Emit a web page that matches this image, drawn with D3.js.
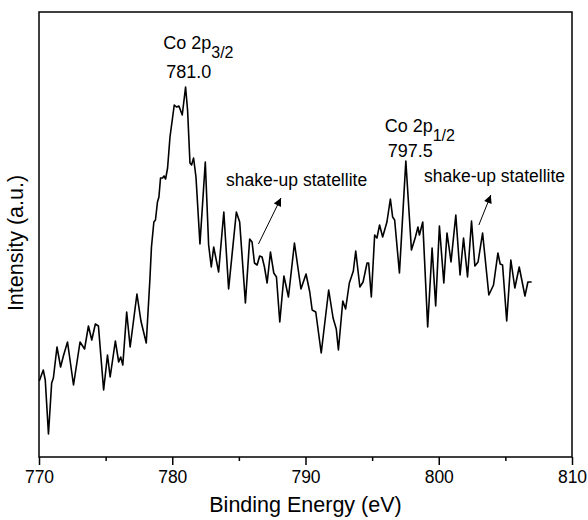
<!DOCTYPE html>
<html>
<head>
<meta charset="utf-8">
<script src="https://cdn.jsdelivr.net/npm/d3@7"></script>
<style>
  body { margin: 0; background: #fff; }
  svg { font-family: "Liberation Sans", Arial, sans-serif; }
</style>
</head>
<body>
<svg id="chart"></svg>
<script>
const energy = [770.02, 770.32, 770.47, 770.71, 770.95, 771.08, 771.35, 771.62, 771.83, 772.14,
  772.59, 773.08, 773.42, 773.71, 773.96, 774.23, 774.46, 774.85, 775.14, 775.34,
  775.73, 775.98, 776.13, 776.29, 776.58, 776.84, 777.35, 777.65, 778.05, 778.32,
  778.44, 778.62, 778.74, 778.89, 779.00, 779.12, 779.27, 779.38, 779.50, 779.65,
  779.83, 780.00, 780.15, 780.32, 780.50, 780.75, 781.00, 781.15, 781.33, 781.45,
  781.60, 781.78, 782.08, 782.48, 782.73, 782.93, 783.11, 783.48, 783.87, 784.23,
  784.81, 785.06, 785.49, 785.81, 785.99, 786.17, 786.37, 786.56, 786.74, 786.92,
  787.12, 787.37, 787.62, 787.82, 788.07, 788.38, 788.72, 789.17, 789.66, 790.04,
  790.32, 790.50, 790.77, 791.18, 791.74, 792.07, 792.31, 792.47, 792.80, 793.01,
  793.29, 793.59, 793.77, 794.08, 794.32, 794.62, 794.74, 794.94, 795.19, 795.36,
  795.56, 795.79, 796.11, 796.37, 796.54, 796.69, 797.05, 797.53, 797.95, 798.25,
  798.44, 798.55, 798.80, 799.17, 799.50, 799.77, 800.05, 800.38, 800.62, 800.83,
  800.92, 801.28, 801.60, 801.86, 802.16, 802.46, 802.71, 802.95, 803.29, 803.76,
  804.11, 804.44, 804.61, 804.79, 805.10, 805.41, 805.71, 806.04, 806.47, 806.69, 806.97]

const intensity = [76, 87, 77, 23, 74, 79, 110, 90, 101, 115,
  72, 115, 108, 131, 117, 133, 131, 67, 102, 80,
  116, 95, 100, 92, 145, 110, 163, 136, 114, 177,
  210, 235, 237, 255, 260, 279, 279, 281, 278, 289,
  320, 337, 352, 350, 351, 342, 370, 347, 294, 292,
  299, 280, 213, 295, 212, 190, 210, 185, 245, 168,
  245, 235, 154, 218, 215, 194, 192, 201, 200, 190,
  174, 205, 184, 180, 135, 181, 160, 214, 168, 183,
  165, 147, 145, 104, 167, 139, 128, 107, 156, 148,
  174, 186, 206, 170, 175, 194, 194, 160, 222, 219,
  232, 220, 235, 258, 240, 237, 184, 296, 207, 220,
  230, 222, 235, 130, 209, 151, 231, 174, 224, 204,
  195, 242, 182, 219, 180, 236, 191, 195, 224, 162,
  172, 204, 193, 192, 136, 197, 169, 190, 161, 175, 175]

const xTicks = [770, 780, 790, 800, 810]
const xMinorTicks = [775, 785, 795, 805]

const peakLabels = [
  { name: "Co 2p", sub: "3/2", value: "781.0", e: 779.32, i: 408, ve: 779.55, vi: 379 },
  { name: "Co 2p", sub: "1/2", value: "797.5", e: 795.94, i: 325, ve: 796.17, vi: 300 }
]
const satellites = [
  { text: "shake-up statellite", e: 784.04, i: 271, from: [786.47, 213], to: [788.16, 259] },
  { text: "shake-up statellite", e: 798.89, i: 275, from: [803.01, 232], to: [803.91, 262] }
]

const W = 588, H = 520
const margin = { top: 12, right: 16, bottom: 63, left: 39 }
const width = W - margin.left - margin.right
const height = H - margin.top - margin.bottom

const svg = d3.select("#chart")
    .attr("width", W)
    .attr("height", H)
  .append("g")
    .attr("transform", "translate(" + margin.left + "," + margin.top + ")")

const xScale = d3.scaleLinear().domain([770, 810]).range([0, width])
const yScale = d3.scaleLinear().domain([0, 445]).range([height, 0])

svg.append("defs").append("marker")
    .attr("id", "head")
    .attr("viewBox", "0 0 10 10")
    .attr("refX", 10).attr("refY", 5)
    .attr("markerWidth", 10).attr("markerHeight", 8)
    .attr("markerUnits", "userSpaceOnUse")
    .attr("orient", "auto")
  .append("path")
    .attr("d", "M0,0 L10,5 L0,10 Z")
    .attr("fill", "#000")

const line = d3.line()
  .x((d, i) => xScale(energy[i]))
  .y(d => yScale(d))

svg.append("path")
  .datum(intensity)
  .attr("fill", "none")
  .attr("stroke", "#000")
  .attr("stroke-width", 1.6)
  .attr("stroke-linejoin", "round")
  .attr("d", line)

// frame
svg.append("rect")
  .attr("width", width)
  .attr("height", height)
  .attr("fill", "none")
  .attr("stroke", "#000")
  .attr("stroke-width", 1.5)

const xAxis = svg.append("g")
  .attr("transform", "translate(0," + height + ")")
  .call(d3.axisBottom(xScale).tickValues(xTicks).tickSize(8).tickPadding(6).tickFormat(d3.format("d")))
xAxis.select(".domain").remove()
xAxis.selectAll("line").attr("stroke-width", 1.5)
xAxis.selectAll("text").attr("font-size", 17.5).attr("fill", "#000")
  .attr("font-family", "Liberation Sans, Arial, sans-serif")

const xMinor = svg.append("g")
  .attr("transform", "translate(0," + height + ")")
  .call(d3.axisBottom(xScale).tickValues(xMinorTicks).tickSize(4).tickFormat(""))
xMinor.select(".domain").remove()
xMinor.selectAll("line").attr("stroke-width", 1.5)

svg.append("text")
  .attr("x", width / 2)
  .attr("y", height + 55)
  .attr("text-anchor", "middle")
  .attr("font-size", 21.5)
  .text("Binding Energy (eV)")

svg.append("text")
  .attr("transform", "translate(-16," + (243 - margin.top) + ") rotate(-90)")
  .attr("text-anchor", "middle")
  .attr("font-size", 21.5)
  .text("Intensity (a.u.)")

peakLabels.forEach(p => {
  const t = svg.append("text")
    .attr("x", xScale(p.e))
    .attr("y", yScale(p.i))
    .attr("font-size", 18)
  t.append("tspan").text(p.name)
  t.append("tspan").attr("dy", 9).attr("font-size", 16).text(p.sub)
  svg.append("text")
    .attr("x", xScale(p.ve))
    .attr("y", yScale(p.vi))
    .attr("font-size", 18)
    .text(p.value)
})

satellites.forEach(s => {
  svg.append("text")
    .attr("x", xScale(s.e))
    .attr("y", yScale(s.i))
    .attr("font-size", 17.5)
    .text(s.text)
  svg.append("line")
    .attr("x1", xScale(s.from[0])).attr("y1", yScale(s.from[1]))
    .attr("x2", xScale(s.to[0])).attr("y2", yScale(s.to[1]))
    .attr("stroke", "#000")
    .attr("stroke-width", 1)
    .attr("marker-end", "url(#head)")
})
</script>
</body>
</html>
